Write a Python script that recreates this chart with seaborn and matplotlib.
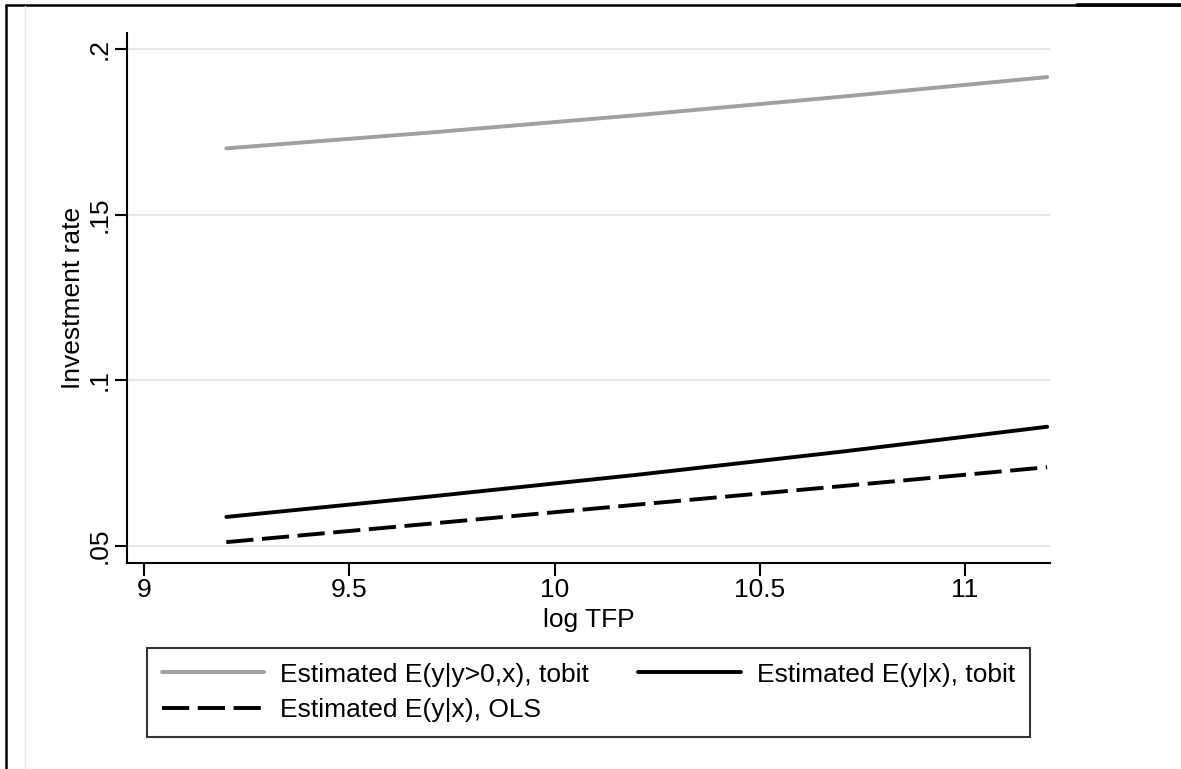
import matplotlib
matplotlib.use("Agg")
import matplotlib.pyplot as plt
from matplotlib.lines import Line2D
import pandas as pd
import seaborn as sns

# values
log_tfp = [9.2, 9.7, 10.2, 10.7, 11.2]
tobit_cond = [0.1700, 0.1748, 0.1800, 0.1856, 0.1915]
tobit_uncond = [0.0588, 0.0650, 0.0715, 0.0785, 0.0860]
ols_fit = [0.0512, 0.0568, 0.0625, 0.0681, 0.0738]

series_labels = ["Estimated E(y|y>0,x), tobit", "Estimated E(y|x), tobit", "Estimated E(y|x), OLS"]
x_ticks = [9, 9.5, 10, 10.5, 11]
x_ticklabels = ["9", "9.5", "10", "10.5", "11"]
y_ticks = [0.05, 0.10, 0.15, 0.20]
y_ticklabels = [".05", ".1", ".15", ".2"]

sns.set_theme(style="white")
plt.rcParams["font.family"] = ["Liberation Sans", "DejaVu Sans"]
plt.rcParams["text.color"] = "black"
plt.rcParams["axes.labelcolor"] = "black"
plt.rcParams["xtick.color"] = "black"
plt.rcParams["ytick.color"] = "black"

fig = plt.figure(figsize=(11.81, 7.69), dpi=100)
ax = fig.add_axes([127 / 1181, 1 - 563 / 769, 923 / 1181, 530 / 769])

data = pd.DataFrame({
    "log_tfp": log_tfp * 3,
    "value": tobit_cond + tobit_uncond + ols_fit,
    "series": [s for s in series_labels for _ in log_tfp],
})

styles = {
    series_labels[0]: dict(color="#a0a0a0", linestyle="-"),
    series_labels[1]: dict(color="black", linestyle="-"),
    series_labels[2]: dict(color="black", linestyle=(0, (7, 2.2))),
}
for label in series_labels:
    sns.lineplot(data=data[data["series"] == label], x="log_tfp", y="value",
                 ax=ax, linewidth=2.8, legend=False, **styles[label])

ax.set_xlim(8.958, 11.207)
ax.set_ylim(0.0449, 0.2048)
ax.set_xticks(x_ticks)
ax.set_xticklabels(x_ticklabels, fontsize=19)
ax.set_yticks(y_ticks)
ax.set_yticklabels(y_ticklabels, fontsize=19, rotation=90, va="center")
ax.set_xlabel("log TFP", fontsize=19, labelpad=4)
ax.set_ylabel("Investment rate", fontsize=19, labelpad=2)
ax.tick_params(axis="both", direction="out", length=9, width=1.5, color="black",
               bottom=True, left=True, pad=2)
ax.yaxis.grid(True, color="#e1e6f2", linewidth=1.5)
ax.xaxis.grid(False)
for side in ["top", "right"]:
    ax.spines[side].set_visible(False)
for side in ["left", "bottom"]:
    ax.spines[side].set_color("black")
    ax.spines[side].set_linewidth(1.5)

handles = [
    Line2D([], [], linewidth=2.8, **styles[series_labels[0]]),
    Line2D([], [], linewidth=2.8, **styles[series_labels[2]]),
    Line2D([], [], linewidth=2.8, **styles[series_labels[1]]),
]
labels = [series_labels[0], series_labels[2], series_labels[1]]
leg = fig.legend(handles, labels, ncol=2, fontsize=19, loc="lower left",
                 bbox_to_anchor=(147 / 1181, 1 - 737 / 769, 883 / 1181, 87 / 769),
                 mode="expand", borderaxespad=0, frameon=True, fancybox=False,
                 edgecolor="black", handlelength=3.9, handletextpad=0.6,
                 labelspacing=0.45, borderpad=0.55, columnspacing=2.0)
leg.get_frame().set_linewidth(1.5)

# outer page frame
fig.add_artist(Line2D([6 / 1181, 6 / 1181], [0, 1 - 5 / 769], color="black", linewidth=1.8))
fig.add_artist(Line2D([6 / 1181, 1], [1 - 5 / 769, 1 - 5 / 769], color="black", linewidth=1.8))
fig.add_artist(Line2D([1077 / 1181, 1], [1 - 5 / 769, 1 - 5 / 769], color="black", linewidth=2.6))
fig.add_artist(Line2D([25 / 1181, 25 / 1181], [0, 1 - 6 / 769], color="#e1e6f2", linewidth=1.0))

fig.savefig("out.png", dpi=100)
